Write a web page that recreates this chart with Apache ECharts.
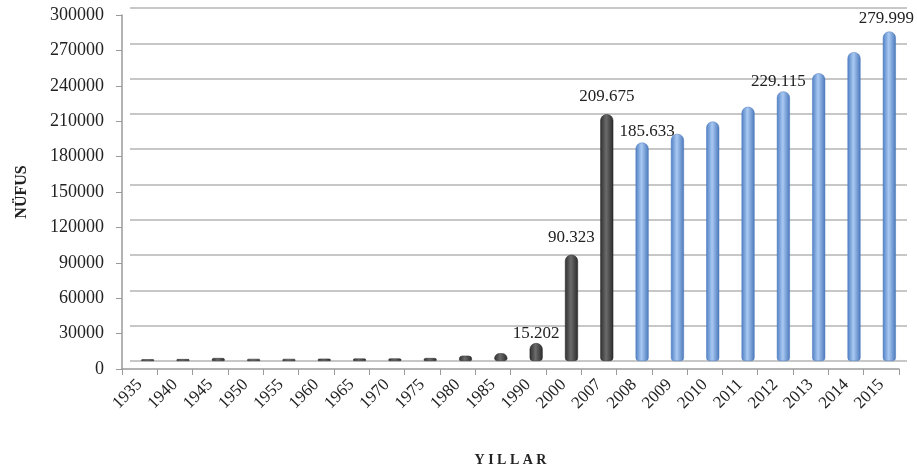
<!DOCTYPE html>
<html><head><meta charset="utf-8">
<script src="https://cdn.jsdelivr.net/npm/echarts@6/dist/echarts.min.js"></script>
<style>html,body{margin:0;padding:0;background:#fff}#c{width:917px;height:474px}</style>
</head><body><div id="c"></div>
<script>
var years = ['1935','1940','1945','1950','1955','1960','1965','1970','1975','1980','1985','1990','2000','2007','2008','2009','2010','2011','2012','2013','2014','2015'];
var population = [1500,1600,2500,1800,1800,2000,2100,2200,2500,4500,6500,15202,90323,209675,185633,193000,203500,216000,229115,244500,262500,279999];
var labelledYears = ['1990','2000','2007','2008','2012','2015'];
var firstBlueYear = '2008';
var yTicks = {min:0, max:300000, interval:30000};

var serif = '"Liberation Serif","DejaVu Serif",serif';
var labelOffsets = {'1990':[0,4],'2000':[0,-4],'2007':[0,-4],'2008':[5,2],'2012':[-5,4],'2015':[-3,0]};
function fmt(v){return String(v).replace(/\B(?=(\d{3})+(?!\d))/g,'.');}
var blueIdx = years.indexOf(firstBlueYear);
var grayGrad = new echarts.graphic.LinearGradient(0,0,1,0,[{offset:0,color:'#2f2f2f'},{offset:0.45,color:'#6b6b6b'},{offset:1,color:'#2a2a2a'}]);
var blueGrad = new echarts.graphic.LinearGradient(0,0,1,0,[{offset:0,color:'#4f7fc4'},{offset:0.45,color:'#a9c9f2'},{offset:1,color:'#4a78bb'}]);
var barData = population.map(function(v,i){
  var y = years[i];
  var item = {value:v, itemStyle:{color: i>=blueIdx ? blueGrad : grayGrad, borderColor: i>=blueIdx ? '#4a76b8' : '#262626', borderWidth:0.5}};
  if (labelledYears.indexOf(y)>=0){
    item.label = {show:true, position:'top', distance:5, offset:labelOffsets[y]||[0,0], formatter:fmt(v), fontFamily:serif, fontSize:17, color:'#222'};
  }
  return item;
});

var chart = echarts.init(document.getElementById('c'));
chart.setOption({
  animation:false,
  backgroundColor:'#fff',
  grid:[
    {left:122, right:18, top:15, bottom:105},
    {left:130, right:10, top:8, bottom:113}
  ],
  xAxis:[
    {type:'category', gridIndex:0, data:years, boundaryGap:true,
     axisLine:{show:true, lineStyle:{color:'#9a9a9a', width:1.5}},
     axisTick:{show:true, length:6, alignWithLabel:false, lineStyle:{color:'#9a9a9a'}},
     axisLabel:{rotate:45, fontFamily:serif, fontSize:17, color:'#222', margin:13, interval:0},
     name:'Y I L L A R', nameLocation:'middle', nameGap:84,
     nameTextStyle:{fontFamily:serif, fontSize:14, fontWeight:'bold', color:'#222'}},
    {type:'category', gridIndex:1, data:years, boundaryGap:true, show:false}
  ],
  yAxis:[
    {type:'value', gridIndex:0, min:yTicks.min, max:yTicks.max, interval:yTicks.interval,
     axisLine:{show:true, lineStyle:{color:'#9a9a9a', width:1.5}},
     axisTick:{show:true, length:6, lineStyle:{color:'#9a9a9a'}},
     axisLabel:{fontFamily:serif, fontSize:18, color:'#222', margin:18, formatter:function(v){return String(v);}},
     splitLine:{show:false},
     name:'NÜFUS', nameLocation:'middle', nameGap:92, nameRotate:90,
     nameTextStyle:{fontFamily:serif, fontSize:16, fontWeight:'bold', color:'#222'}},
    {type:'value', gridIndex:1, min:yTicks.min, max:yTicks.max, interval:yTicks.interval,
     axisLabel:{show:false}, axisTick:{show:false}, axisLine:{show:false},
     splitLine:{show:true, lineStyle:{color:'#b4b4b4', width:1.5}}}
  ],
  series:[
    {type:'bar', xAxisIndex:1, yAxisIndex:1, barWidth:13, data:barData,
     itemStyle:{borderRadius:[6,6,3,3]}}
  ]
});
</script></body></html>
